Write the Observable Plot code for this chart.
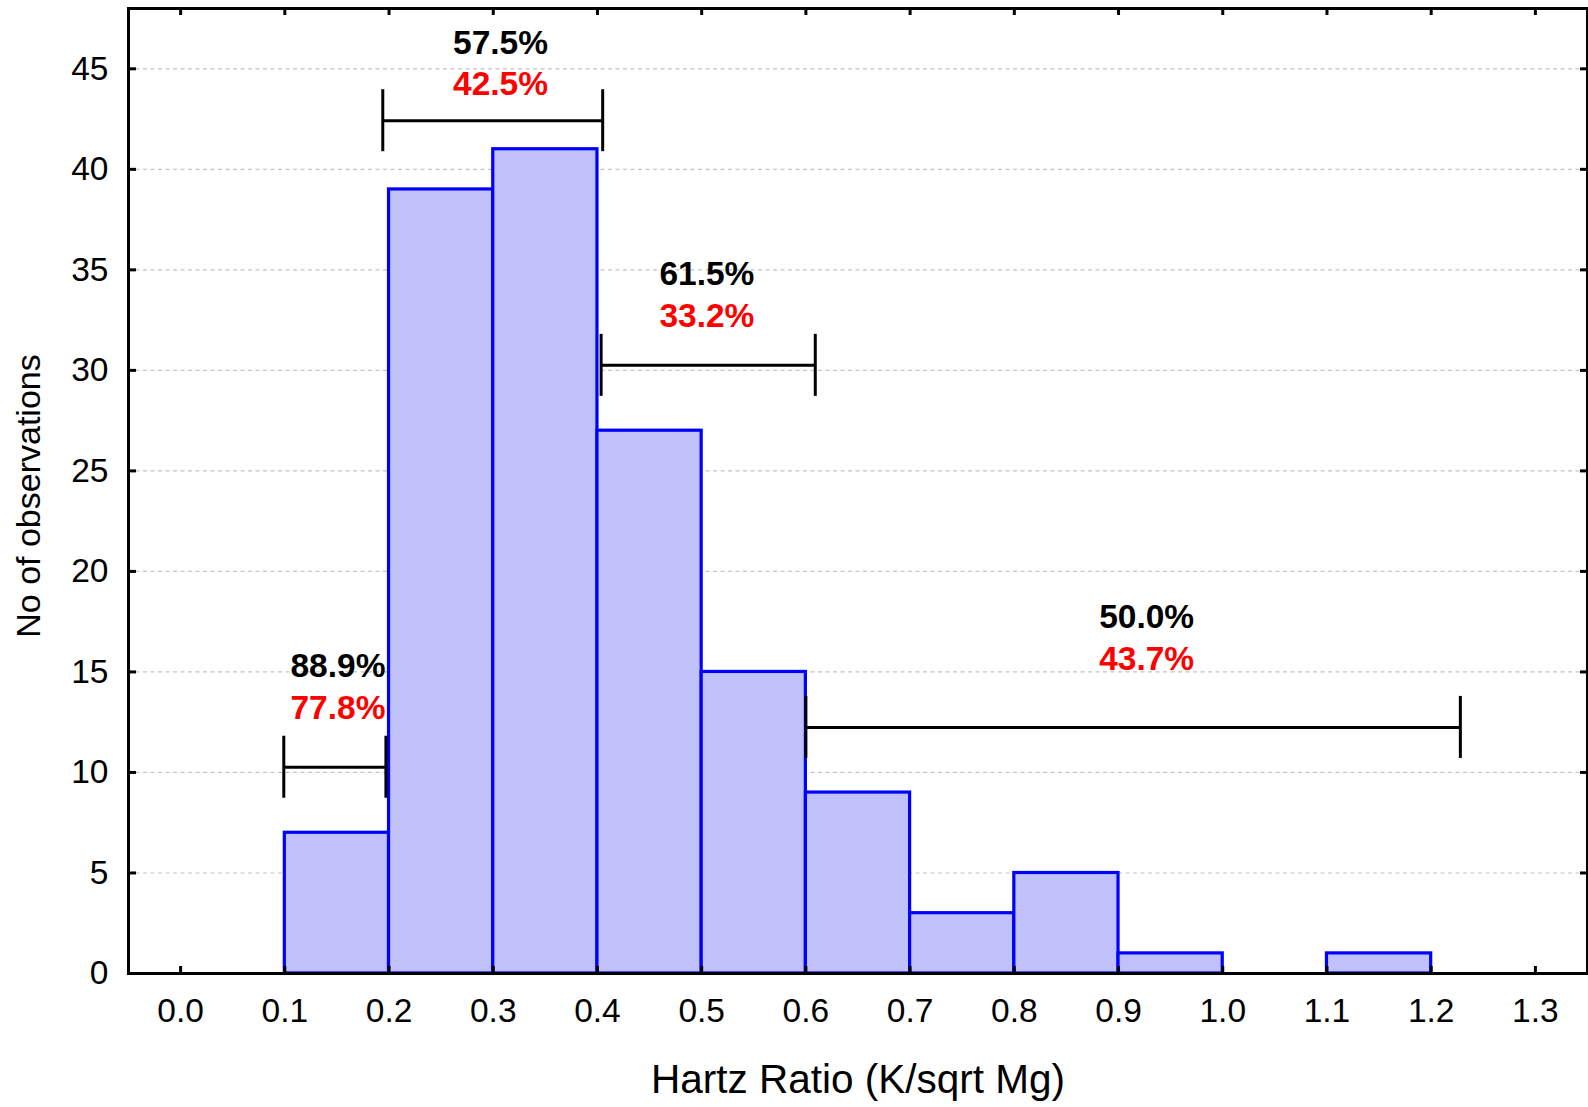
<!DOCTYPE html>
<html>
<head>
<meta charset="utf-8">
<script src="https://cdn.jsdelivr.net/npm/d3@7"></script>
<script src="https://cdn.jsdelivr.net/npm/@observablehq/plot@0.6"></script>
<style>
  html, body { margin: 0; padding: 0; background: #fff; }
  #chart { width: 1588px; height: 1107px; }
</style>
</head>
<body>
<div id="chart"></div>
<script>
// ---- data ----
const binStart = [0.1, 0.2, 0.3, 0.4, 0.5, 0.6, 0.7, 0.8, 0.9, 1.0, 1.1];
const binEnd   = [0.2, 0.3, 0.4, 0.5, 0.6, 0.7, 0.8, 0.9, 1.0, 1.1, 1.2];
const counts   = [7, 39, 41, 27, 15, 9, 3, 5, 1, 0, 1];

const ciLow  = [0.099, 0.194, 0.4035, 0.600];
const ciHigh = [0.197, 0.405, 0.609, 1.228];
const ciY    = [10.26, 42.42, 30.25, 12.24];

const pctBlack = ["88.9%", "57.5%", "61.5%", "50.0%"];
const pctRed   = ["77.8%", "42.5%", "33.2%", "43.7%"];
const labelX   = [0.151, 0.307, 0.505, 0.927];
const blackY   = [14.76, 45.74, 34.24, 17.18];
const redY     = [12.65, 43.70, 32.15, 15.09];

const xTicks = [0.0, 0.1, 0.2, 0.3, 0.4, 0.5, 0.6, 0.7, 0.8, 0.9, 1.0, 1.1, 1.2, 1.3];
const yTicks = [0, 5, 10, 15, 20, 25, 30, 35, 40, 45];

const xLabel = "Hartz Ratio (K/sqrt Mg)";
const yLabel = "No of observations";

// ---- layout ----
const W = 1588, H = 1107;
const mL = 128, mR = 1, mT = 8, mB = 134;
const xDomain = [-0.05, 1.35], yDomain = [0, 48];
const plotW = W - mL - mR, plotH = H - mT - mB;
const pxPerY = plotH / (yDomain[1] - yDomain[0]);
const capHalf = 31 / pxPerY;

const bars = binStart.map((s, i) => ({x1: s, x2: binEnd[i], y: counts[i]})).filter(d => d.y > 0);
const cis = ciLow.map((l, i) => ({x1: l, x2: ciHigh[i], y: ciY[i]}));
const labels = labelX.map((x, i) => ({x, yb: blackY[i], yr: redY[i], b: pctBlack[i], r: pctRed[i]}));

const font = "'Liberation Sans', Arial, Helvetica, sans-serif";

const chart = Plot.plot({
  width: W, height: H,
  marginLeft: mL, marginRight: mR, marginTop: mT, marginBottom: mB,
  style: {fontFamily: font, fontSize: "33px", background: "white", color: "black"},
  x: {domain: xDomain},
  y: {domain: yDomain},
  marks: [
    Plot.ruleY(yTicks.filter(d => d > 0), {y: d => d, stroke: "#c4c4c4", strokeWidth: 1.2, strokeDasharray: "4,3.5"}),
    Plot.rectY(bars, {x1: "x1", x2: "x2", y1: 0, y2: "y", fill: "#c0c0fa", stroke: "#0000ff", strokeWidth: 3.2}),
    // interval bars
    Plot.ruleY(cis, {x1: "x1", x2: "x2", y: "y", stroke: "black", strokeWidth: 3}),
    Plot.ruleX(cis, {x: "x1", y1: d => d.y - capHalf, y2: d => d.y + capHalf, stroke: "black", strokeWidth: 3}),
    Plot.ruleX(cis, {x: "x2", y1: d => d.y - capHalf, y2: d => d.y + capHalf, stroke: "black", strokeWidth: 3}),
    // percentage labels
    Plot.text(labels, {x: "x", y: "yb", text: "b", fill: "black", fontWeight: "bold", fontSize: 33.5, lineAnchor: "bottom", textAnchor: "middle"}),
    Plot.text(labels, {x: "x", y: "yr", text: "r", fill: "#ff0000", fontWeight: "bold", fontSize: 33.5, lineAnchor: "bottom", textAnchor: "middle"}),
    // frame
    Plot.frame({stroke: "black", strokeWidth: 3}),
    // inward ticks
    Plot.tickX(xTicks, {x: d => d, insetTop: plotH - 7, stroke: "black", strokeWidth: 3}),
    Plot.tickX(xTicks, {x: d => d, insetBottom: plotH - 7, stroke: "black", strokeWidth: 3}),
    Plot.tickY(yTicks, {y: d => d, insetRight: plotW - 8, stroke: "black", strokeWidth: 3}),
    Plot.tickY(yTicks, {y: d => d, insetLeft: plotW - 7, stroke: "black", strokeWidth: 3}),
    // tick labels
    Plot.axisX({ticks: xTicks, tickSize: 0, tickPadding: 25, tickFormat: d3.format(".1f"), fontSize: 33.5, label: null}),
    Plot.axisY({ticks: yTicks, tickSize: 0, tickPadding: 20, fontSize: 33.5, label: null}),
    // axis titles
    Plot.text([xLabel], {text: d => d, frameAnchor: "bottom", textAnchor: "middle", lineAnchor: "bottom", dy: 119, fontSize: 40.5, fill: "black"}),
    Plot.text([yLabel], {text: d => d, frameAnchor: "left", textAnchor: "middle", rotate: -90, dx: -99, dy: 5, fontSize: 34, fill: "black"})
  ]
});
document.getElementById("chart").appendChild(chart);
</script>
</body>
</html>
